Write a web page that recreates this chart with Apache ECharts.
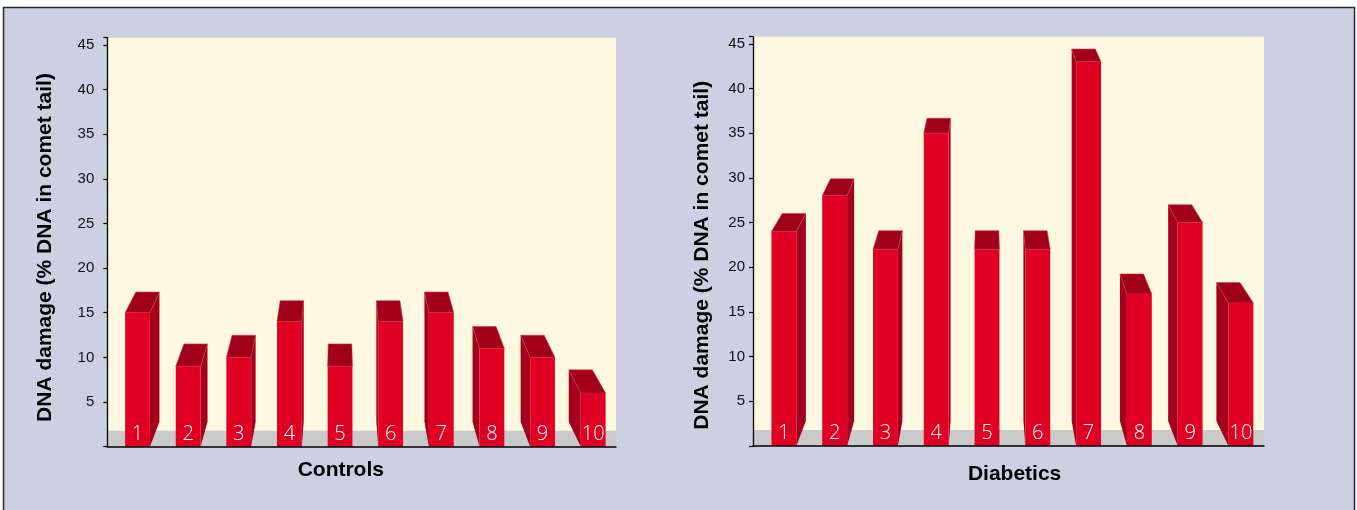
<!DOCTYPE html>
<html><head><meta charset="utf-8">
<script src="https://cdn.jsdelivr.net/npm/echarts@6/dist/echarts.min.js"></script>
<style>html,body{margin:0;padding:0;background:#fff}#c{width:1357px;height:510px}</style>
</head><body><div id="c"></div>
<script>
// ---- data ----
const categories = ['1','2','3','4','5','6','7','8','9','10'];
const controlsValues = [15, 9, 10, 14, 9, 14, 15, 11, 10, 6];
const diabeticsValues = [24, 28, 22, 35, 22, 22, 43, 17, 25, 16];
const panelNames = ['Controls', 'Diabetics'];
const yTitle = 'DNA damage (% DNA in comet tail)';
const yTickStep = 5;

// ---- style constants ----
const Y_MAX = 45.8;
const FLOOR_DEPTH = 1.8;
const FRONT = '#e00024', SIDE = '#a5001b', TOPC = '#a0001a';
const LBL_FONT = '"Liberation Sans", Arial, sans-serif';

function render3D(params, api) {
  const i = api.value(0), v = api.value(1);
  const base = api.coord([i, 0]);
  const top = api.coord([i, v]);
  const bw = api.size([1, 0])[0] * 0.49;
  const vpX = api.coord([4, 0])[0];
  const gridTop = params.coordSys.y;
  const xL = base[0] - bw / 2, xR = base[0] + bw / 2;
  const yT = top[1], yB = base[1];
  const depth = y => 11.9 + 0.032 * (y - gridTop);
  const shift = x => -0.05 * (x - vpX);
  const bxL = xL + shift(xL), bxR = xR + shift(xR);
  const byT = yT - depth(yT), byB = yB - depth(yB);
  const ch = [];
  if (bxR > xR + 0.3) ch.push({type: 'polygon', shape: {points: [[xR, yT], [bxR, byT], [bxR, byB], [xR, yB]]}, style: {fill: SIDE}});
  if (bxL < xL - 0.3) ch.push({type: 'polygon', shape: {points: [[xL, yT], [bxL, byT], [bxL, byB], [xL, yB]]}, style: {fill: SIDE}});
  ch.push({type: 'polygon', shape: {points: [[xL, yT], [bxL, byT], [bxR, byT], [xR, yT]]}, style: {fill: TOPC, stroke: '#c83a52', lineWidth: 0.6}});
  ch.push({type: 'rect', shape: {x: xL, y: yT, width: bw, height: yB - yT}, style: {fill: FRONT}});
  ch.push({type: 'text', style: {x: base[0], y: yB - 12.5, text: categories[params.dataIndex], fill: '#fff',
    fontSize: 20, fontFamily: '"Open Sans", sans-serif', fontWeight: 300, align: 'center', verticalAlign: 'middle'}});
  return {type: 'group', children: ch};
}

function renderFloor(params, api) {
  const cs = params.coordSys;
  const y0 = api.coord([0, 0])[1];
  const y1 = api.coord([0, FLOOR_DEPTH])[1];
  return {type: 'rect', shape: {x: cs.x, y: y1, width: cs.width, height: y0 - y1}, style: {fill: '#cacaca'}};
}

const grids = [
  {left: 107.3, top: 37.7, width: 508.7, height: 409, show: true, backgroundColor: '#fef8e1', borderWidth: 0},
  {left: 112.2, top: 37.7, width: 506.3, height: 409, show: false},
  {left: 753, top: 36.7, width: 511, height: 409.3, show: true, backgroundColor: '#fef8e1', borderWidth: 0},
  {left: 758.5, top: 36.7, width: 507.8, height: 409.3, show: false}
];

function frameY(gi, margin, pad) {
  return {type: 'value', gridIndex: gi, min: 0, max: Y_MAX, interval: yTickStep,
    axisLine: {show: true, lineStyle: {color: '#000', width: 1.3}},
    axisTick: {show: true, length: 4, lineStyle: {color: '#000', width: 1.2}},
    axisLabel: {margin: margin, color: '#111', fontSize: 15, fontFamily: LBL_FONT, padding: pad,
      formatter: v => (v > 0 && v % yTickStep === 0) ? String(v) : ''},
    splitLine: {show: false}, z: 5};
}
function frameX(gi) {
  return {type: 'value', gridIndex: gi, min: 0, max: 1,
    axisLine: {show: true, onZero: false, lineStyle: {color: '#000', width: 1.5}},
    axisTick: {show: false}, axisLabel: {show: false}, splitLine: {show: false}, z: 5};
}
function barX(gi) {
  return {type: 'category', gridIndex: gi, data: categories, show: false, boundaryGap: true};
}
function barY(gi) {
  return {type: 'value', gridIndex: gi, min: 0, max: Y_MAX, show: false, splitLine: {show: false}};
}

const titleFont = {fontSize: 21, fontWeight: 'bold', fontFamily: LBL_FONT, fill: '#000', align: 'center', verticalAlign: 'middle'};

const option = {
  animation: false,
  grid: grids,
  xAxis: [frameX(0), barX(1), frameX(2), barX(3)],
  yAxis: [frameY(0, 13, [0, 0, 0, 0]), barY(1), frameY(2, 8, [12, 0, 0, 0]), barY(3)],
  graphic: [
    {type: 'rect', z: -10, shape: {x: 3.5, y: 7.5, width: 1351, height: 520}, style: {fill: '#cdcfe3', stroke: '#2b2b2b', lineWidth: 1.5}},
    {type: 'text', x: 45.5, y: 247.5, rotation: Math.PI / 2, style: Object.assign({text: yTitle}, titleFont)},
    {type: 'text', x: 702.7, y: 255.3, rotation: Math.PI / 2, style: Object.assign({text: yTitle}, titleFont)},
    {type: 'text', x: 340.8, y: 470, style: Object.assign({text: panelNames[0]}, titleFont)},
    {type: 'text', x: 1014.6, y: 474.7, style: Object.assign({text: panelNames[1]}, titleFont)}
  ],
  series: [
    {type: 'custom', xAxisIndex: 0, yAxisIndex: 0, z: 1, silent: true, renderItem: renderFloor, data: [[0, 0]]},
    {type: 'custom', xAxisIndex: 2, yAxisIndex: 2, z: 1, silent: true, renderItem: renderFloor, data: [[0, 0]]},
    {type: 'custom', name: panelNames[0], xAxisIndex: 1, yAxisIndex: 1, z: 3, renderItem: render3D,
      data: controlsValues.map((v, i) => [i, v])},
    {type: 'custom', name: panelNames[1], xAxisIndex: 3, yAxisIndex: 3, z: 3, renderItem: render3D,
      data: diabeticsValues.map((v, i) => [i, v])}
  ]
};
const chart = echarts.init(document.getElementById('c'), null, {renderer: 'canvas'});
chart.setOption(option);
</script>
</body></html>
